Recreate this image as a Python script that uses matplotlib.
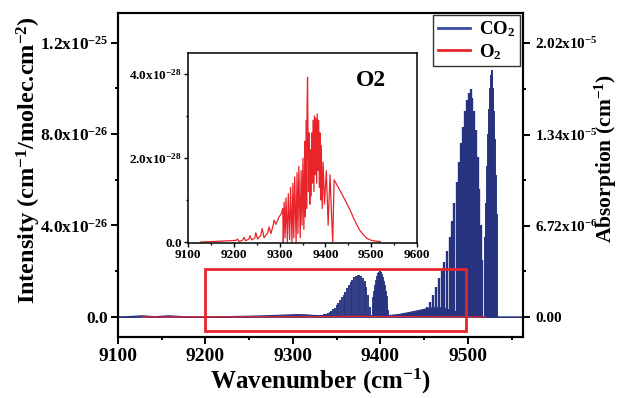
import numpy as np
import matplotlib
matplotlib.use("Agg")
import matplotlib.pyplot as plt
from matplotlib.patches import Rectangle
from matplotlib.ticker import FixedLocator, MultipleLocator

plt.rcParams['font.family'] = ['Liberation Serif', 'DejaVu Serif']
plt.rcParams['font.weight'] = 'bold'
plt.rcParams['mathtext.fontset'] = 'custom'
plt.rcParams['mathtext.rm'] = 'Liberation Serif:bold'
plt.rcParams['mathtext.bf'] = 'Liberation Serif:bold'
plt.rcParams['mathtext.it'] = 'Liberation Serif:bold'
plt.rcParams['mathtext.default'] = 'bf'

# ---------------- data (intensities of CO2 in 1e-26, O2 in 1e-28) ----------------
# CO2 band near 9375 (resolved lines)
co2_a_wn = [9330, 9332, 9334, 9336, 9338, 9340, 9342, 9344, 9346, 9348, 9350, 9352, 9354, 9356,
            9358, 9360, 9362, 9364, 9366, 9368, 9370, 9372, 9374, 9376, 9378, 9380, 9382, 9384,
            9386, 9388]
co2_a_int = [0.05, 0.07, 0.09, 0.11, 0.13, 0.15, 0.20, 0.26, 0.33, 0.40, 0.50, 0.60, 0.72, 0.85,
             0.97, 1.10, 1.25, 1.40, 1.52, 1.63, 1.73, 1.80, 1.84, 1.83, 1.78, 1.68, 1.55, 1.30,
             0.95, 0.45]
# CO2 band near 9400
co2_b_wn = [9391, 9392, 9393, 9394, 9395, 9396, 9397, 9398, 9399, 9400, 9401, 9402, 9403, 9404,
            9405, 9406, 9407, 9408, 9409]
co2_b_int = [0.50, 0.85, 1.15, 1.40, 1.62, 1.78, 1.90, 1.97, 2.00, 2.00, 1.96, 1.88, 1.75, 1.58,
             1.38, 1.15, 0.90, 0.60, 0.30]
# CO2 strong band: P branch
co2_p_wn = [9445, 9449, 9453, 9456.5, 9460, 9463.5, 9467, 9470, 9473, 9476, 9479, 9482, 9484.5,
            9487, 9489.5, 9492, 9494.5, 9497, 9499, 9501, 9503, 9505, 9507, 9509, 9511, 9513,
            9515, 9516.5]
co2_p_int = [0.15, 0.30, 0.45, 0.65, 0.95, 1.30, 1.70, 2.00, 2.40, 2.90, 3.50, 4.20, 5.00,
             5.90, 6.80, 7.60, 8.30, 9.00, 9.50, 9.80, 9.97, 9.60, 9.00, 8.20, 7.00, 5.60,
             4.00, 2.50]
# CO2 strong band: R branch
co2_r_wn = [9519, 9520, 9521, 9522, 9523, 9524, 9525, 9526, 9527, 9528, 9529, 9530, 9531, 9532,
            9533]
co2_r_int = [2.0, 3.5, 5.0, 6.6, 8.0, 9.1, 10.0, 10.6, 10.8, 10.6, 10.0, 9.0, 7.8, 6.2, 4.5]
# CO2 weak unresolved background bands
co2_bg_wn = [9100, 9110, 9120, 9128, 9135, 9142, 9150, 9158, 9166, 9175, 9190, 9220, 9250, 9270,
             9290, 9305, 9315, 9325, 9335, 9345, 9360, 9380, 9390, 9410, 9420, 9430, 9440, 9450,
             9460, 9470, 9480, 9490, 9500, 9510, 9520, 9563]
co2_bg_int = [0.0, 0.01, 0.03, 0.05, 0.03, 0.01, 0.03, 0.05, 0.03, 0.01, 0.0, 0.01, 0.03, 0.05,
              0.08, 0.10, 0.09, 0.06, 0.05, 0.04, 0.04, 0.05, 0.05, 0.06, 0.10, 0.17, 0.25, 0.33,
              0.40, 0.40, 0.30, 0.18, 0.08, 0.03, 0.0, 0.0]

# O2 spectrum
o2_wn = [9128, 9150, 9170, 9190, 9205, 9208, 9212, 9220, 9222, 9226, 9233, 9235, 9239, 9246, 9248,
         9252, 9259, 9262, 9266, 9274, 9277, 9281, 9286, 9288, 9292, 9298, 9304, 9307, 9308,
         9310, 9312, 9314, 9317, 9319, 9322, 9324, 9327, 9329, 9331, 9333, 9336, 9338, 9340,
         9342, 9345, 9347, 9349, 9351, 9353, 9355, 9356, 9358, 9359, 9360, 9361, 9363, 9364,
         9366, 9367, 9369, 9370, 9372, 9373, 9375, 9376, 9378, 9379, 9381, 9382, 9384, 9385,
         9387, 9388, 9390, 9391, 9393, 9395, 9398, 9402, 9406, 9410, 9414, 9416, 9419, 9423,
         9430, 9438, 9446, 9454, 9461, 9468, 9475, 9483, 9490, 9500, 9510, 9520]
o2_int = [0.0, 0.01, 0.02, 0.03, 0.04, 0.07, 0.01, 0.05, 0.11, 0.03, 0.07, 0.15, 0.05, 0.10, 0.22,
          0.07, 0.16, 0.32, 0.10, 0.22, 0.36, 0.20, 0.40, 0.52, 0.42, 0.58, 0.68, 0.80, 0.0,
          0.95, 0.10, 1.05, 0.0, 1.15, 0.05, 1.30, 0.0, 1.40, 0.10, 1.55, 0.0, 1.65, 0.20,
          1.80, 0.10, 1.70, 0.40, 2.00, 0.30, 2.40, 0.60, 2.90, 0.80, 3.30, 3.92, 1.20, 2.60,
          0.90, 2.20, 1.10, 2.60, 1.40, 2.90, 1.20, 3.00, 1.60, 2.95, 1.40, 3.05, 1.70, 2.90,
          1.30, 2.60, 1.00, 2.30, 0.80, 1.90, 0.90, 1.70, 0.40, 1.60, 0.50, 0.0, 1.48, 1.40,
          1.26, 1.10, 0.93, 0.76, 0.58, 0.42, 0.28, 0.17, 0.09, 0.04, 0.02, 0.01]

box_wn = [9200, 9498]
box_int = [-0.6, 2.1]  # 1e-26

left_ticks = [0, 4e-26, 8e-26, 1.2e-25]
left_labels = ["0.0", r"4.0x10$^{-26}$", r"8.0x10$^{-26}$", r"1.2x10$^{-25}$"]
right_ticks = [0, 6.72e-6, 1.34e-5, 2.02e-5]
right_labels = ["0.00", r"6.72x10$^{-6}$", r"1.34x10$^{-5}$", r"2.02x10$^{-5}$"]
inset_ticks = [0, 2e-28, 4e-28]
inset_labels = ["0.0", r"2.0x10$^{-28}$", r"4.0x10$^{-28}$"]

S26 = 1e-26
S28 = 1e-28
co2_color = '#28337f'
leg_color = '#3a4ca6'
red = '#e8252b'

fig = plt.figure(figsize=(6.19, 3.98), dpi=100)
ax = fig.add_axes([0.1906, 0.1533, 0.8449 - 0.1906, 0.9673 - 0.1533])

xlim = (9100, 9563)
ylim = (-0.88e-26, 13.3e-26)

# CO2
ax.fill_between(co2_bg_wn, 0, np.array(co2_bg_int) * S26, color=co2_color, lw=0.6, zorder=2)
ax.plot(co2_bg_wn, np.array(co2_bg_int) * S26, color=co2_color, lw=0.8, zorder=2)
for wn, it, lw in [(co2_a_wn, co2_a_int, 1.35), (co2_b_wn, co2_b_int, 1.3),
                   (co2_p_wn, co2_p_int, 1.7), (co2_r_wn, co2_r_int, 1.4)]:
    ax.vlines(wn, 0, np.array(it) * S26, color=co2_color, lw=lw, zorder=2)
# O2 on main scale
ax.plot(o2_wn, np.array(o2_int) * S28, color=red, lw=0.9, zorder=3)

ax.add_patch(Rectangle((box_wn[0], box_int[0] * S26), box_wn[1] - box_wn[0],
                       (box_int[1] - box_int[0]) * S26, fill=False, ec=red, lw=2.0, zorder=4))

ax.set_xlim(*xlim)
ax.set_ylim(*ylim)
ax.xaxis.set_major_locator(FixedLocator([9100, 9200, 9300, 9400, 9500]))
ax.xaxis.set_minor_locator(FixedLocator([9150, 9250, 9350, 9450, 9550]))
ax.set_yticks(left_ticks)
ax.set_yticklabels(left_labels)
ax.yaxis.set_minor_locator(FixedLocator([2e-26, 6e-26, 1e-25]))
ax.tick_params(axis='x', which='major', labelsize=14, length=5, width=1.4, direction='out', pad=3)
ax.tick_params(axis='y', which='major', labelsize=12.5, length=5, width=1.4, direction='out', pad=2)
ax.tick_params(which='minor', length=2.5, width=1.4, direction='out')
for s in ax.spines.values():
    s.set_linewidth(1.5)
ax.set_xlabel(r"Wavenumber (cm$^{-1}$)", fontsize=18, fontweight='bold', labelpad=1)
ax.set_ylabel(r"Intensity (cm$^{-1}$/molec.cm$^{-2}$)", fontsize=17.5, fontweight='bold')
ax.yaxis.set_label_coords(-0.185, 0.545)

# right axis
ax2 = ax.twinx()
k = 2.02e-5 / 1.2e-25
ax2.set_ylim(ylim[0] * k, ylim[1] * k)
ax2.set_yticks(right_ticks)
ax2.set_yticklabels(right_labels)
ax2.yaxis.set_minor_locator(FixedLocator([3.36e-6, 1.006e-5, 1.68e-5]))
ax2.tick_params(axis='y', which='major', labelsize=11, length=5, width=1.4, direction='out', pad=4)
ax2.tick_params(axis='y', which='minor', length=2.5, width=1.4, direction='out')
ax2.set_ylabel(r"Absorption (cm$^{-1}$)", fontsize=15.5, fontweight='bold')
ax2.yaxis.set_label_coords(1.172, 0.55)
for s in ax2.spines.values():
    s.set_linewidth(1.5)

# legend (proxy handles)
h1, = ax2.plot([], [], color=leg_color, lw=2, label="CO$_2$")
h2, = ax2.plot([], [], color=red, lw=2, label="O$_2$")
leg = ax2.legend(handles=[h1, h2], loc='upper right', bbox_to_anchor=(0.993, 0.995),
                 fontsize=13.5, frameon=True, fancybox=False, edgecolor='black',
                 borderaxespad=0, handlelength=1.7, handletextpad=0.5, borderpad=0.25,
                 labelspacing=0.15)
leg.get_frame().set_linewidth(1.0)

# inset
axi = fig.add_axes([0.3037, 0.3894, 0.6737 - 0.3037, 0.8668 - 0.3894])
axi.set_zorder(5)
axi.plot(o2_wn, np.array(o2_int) * S28, color=red, lw=0.9)
axi.set_xlim(9100, 9600)
axi.set_ylim(-0.024e-28, 4.5e-28)
axi.xaxis.set_major_locator(MultipleLocator(100))
axi.xaxis.set_minor_locator(MultipleLocator(50))
axi.set_yticks(inset_ticks)
axi.set_yticklabels(inset_labels)
axi.yaxis.set_minor_locator(FixedLocator([1e-28, 3e-28]))
axi.tick_params(which='major', labelsize=9.5, length=3, width=1.0, direction='out', pad=1.5)
axi.tick_params(which='minor', length=1.6, width=1.0, direction='out')
for s in axi.spines.values():
    s.set_linewidth(1.1)
axi.text(0.735, 0.855, "O2", transform=axi.transAxes, fontsize=17, fontweight='bold',
         va='center')

fig.savefig("out.png", dpi=100)
